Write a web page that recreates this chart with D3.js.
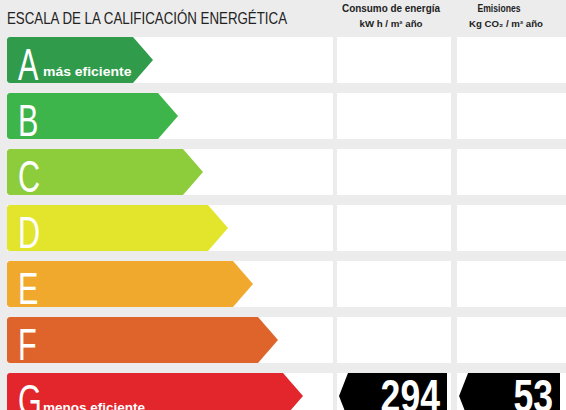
<!DOCTYPE html>
<meta charset="utf-8">
<style>
body { margin: 0; background: #ececec; }
svg { display: block; }
.hdr { font-family: "Liberation Sans", Arial, sans-serif; }
.col { font-family: "Liberation Sans", Arial, sans-serif; font-weight: bold; fill: #222; text-anchor: middle; }
.letter { font-family: "Liberation Sans", Arial, sans-serif; fill: #fff; }
.note { font-family: "Liberation Sans", Arial, sans-serif; font-weight: bold; fill: #fff; }
.val { font-family: "Liberation Sans", Arial, sans-serif; font-weight: bold; fill: #fff; text-anchor: end; }
</style>
<svg width="566" height="410"></svg>
<script src="https://d3js.org/d3.v7.min.js"></script>
<script>

var classes = ["A", "B", "C", "D", "E", "F", "G"];
var notes = ["más eficiente", "", "", "", "", "", "menos eficiente"];
var colors = ["#2f9b4b", "#3db54a", "#8dcd3c", "#e2e52c", "#f0a92c", "#df642b", "#e3262c"];

var columns = ["Consumo de energía", "Emisiones"];
var units = ["kW h / m² año", "Kg CO₂ / m² año"];
var rating = "G";
var values = [294, 53];

var svg = d3.select("svg"),
    width = +svg.attr("width"),
    height = +svg.attr("height");

var y = d3.scaleBand()
    .domain(classes)
    .range([37, 37 + 56 * 7 - 10])
    .paddingInner(10 / 56)
    .paddingOuter(0);

var tip = d3.scaleLinear()
    .domain([0, classes.length - 1])
    .range([153, 303]);

var colX = d3.scaleBand()
    .domain(columns)
    .range([337, 337 + 2 * 117])
    .paddingInner(6 / 117);

var h = y.bandwidth();

// white rows behind the arrows
svg.append("g").selectAll("rect")
  .data(classes)
  .enter().append("rect")
    .attr("x", 7)
    .attr("y", function(d) { return y(d); })
    .attr("width", 326)
    .attr("height", h)
    .attr("fill", "#fff");

// white cells for the two value columns
columns.forEach(function(c) {
  svg.append("g").selectAll("rect")
    .data(classes)
    .enter().append("rect")
      .attr("x", colX(c))
      .attr("y", function(d) { return y(d); })
      .attr("width", colX.bandwidth())
      .attr("height", h)
      .attr("fill", "#fff");
});

// header
svg.append("text")
    .attr("class", "hdr")
    .attr("x", 7)
    .attr("y", 24)
    .attr("font-size", 16.5)
    .attr("fill", "#222")
    .attr("textLength", 280)
    .attr("lengthAdjust", "spacingAndGlyphs")
    .text("ESCALA DE LA CALIFICACIÓN ENERGÉTICA");

var titleW = [98, 43], titleX = [391, 499];
var unitW = [63, 74], unitX = [391, 506];

columns.forEach(function(c, i) {
  svg.append("text")
      .attr("class", "col")
      .attr("x", titleX[i])
      .attr("y", 11.5)
      .attr("font-size", 10.5)
      .attr("textLength", titleW[i])
      .attr("lengthAdjust", "spacingAndGlyphs")
      .text(c);
  svg.append("text")
      .attr("class", "col")
      .attr("x", unitX[i])
      .attr("y", 27)
      .attr("font-size", 8.5)
      .attr("textLength", unitW[i])
      .attr("lengthAdjust", "spacingAndGlyphs")
      .text(units[i]);
});

// arrows
var arrow = svg.append("g").selectAll("g")
  .data(classes)
  .enter().append("g");

arrow.append("path")
    .attr("fill", function(d, i) { return colors[i]; })
    .attr("d", function(d, i) {
      var t = y(d), x1 = tip(i), r = 3;
      return "M" + (7 + r) + "," + t +
             "L" + (x1 - 20) + "," + t +
             "L" + x1 + "," + (t + h / 2) +
             "L" + (x1 - 20) + "," + (t + h) +
             "L" + (7 + r) + "," + (t + h) +
             "Q7," + (t + h) + " 7," + (t + h - r) +
             "L7," + (t + r) +
             "Q7," + t + " " + (7 + r) + "," + t + "Z";
    });

arrow.append("text")
    .attr("class", "letter")
    .attr("transform", function(d) { return "translate(18," + (y(d) + 43) + ") scale(0.68,1)"; })
    .attr("font-size", 45)
    .text(function(d) { return d; });

arrow.append("text")
    .attr("class", "note")
    .attr("x", 43)
    .attr("y", function(d) { return y(d) + 39; })
    .attr("font-size", 13)
    .attr("textLength", function(d, i) { return notes[i] ? notes[i].length * 6.8 : null; })
    .attr("lengthAdjust", "spacingAndGlyphs")
    .text(function(d, i) { return notes[i]; });

// value markers
var boxR = [447, 560];
columns.forEach(function(c, i) {
  var t = y(rating), x0 = colX(c) + 2, x1 = boxR[i];
  svg.append("path")
      .attr("fill", "#000")
      .attr("d", "M" + (x0 + 9) + "," + t + "L" + x1 + "," + t + "L" + x1 + "," + (t + h) +
                 "L" + (x0 + 9) + "," + (t + h) + "L" + x0 + "," + (t + h / 2) + "Z");
  var s = String(values[i]);
  svg.append("text")
      .attr("class", "val")
      .attr("x", x1 - 7)
      .attr("y", t + 39)
      .attr("font-size", 46)
      .attr("textLength", s.length * 19.8)
      .attr("lengthAdjust", "spacingAndGlyphs")
      .text(s);
});

</script>
